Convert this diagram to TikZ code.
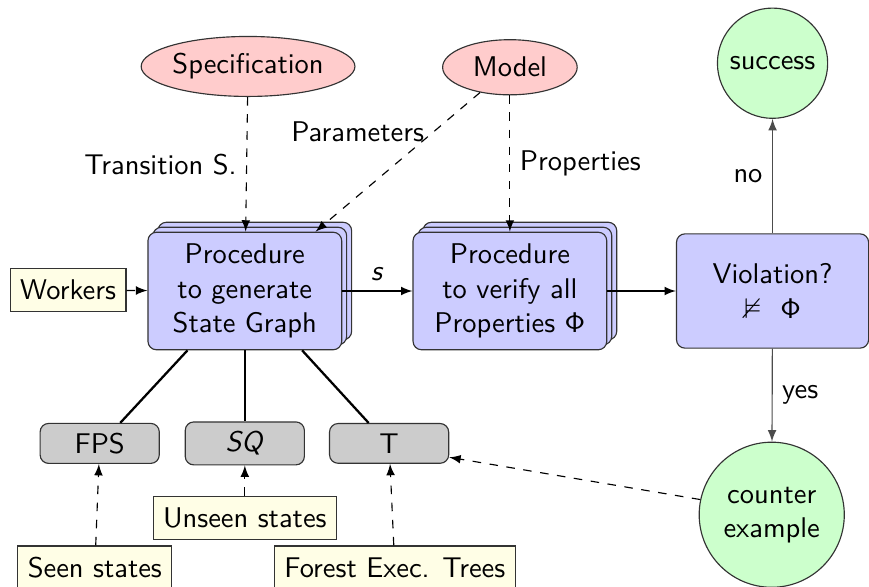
\documentclass[tikz,border=0pt]{standalone}
\usepackage{amsmath,amssymb}
\usetikzlibrary{shapes,arrows,positioning,calc,shadows}

\begin{document}
\begin{tikzpicture}[font=\sffamily, >=latex,
    proc/.style={draw=black!80, fill=blue!20, rounded corners=3pt, align=center,
        minimum width=2.39cm, minimum height=1.45cm, inner sep=2pt},
    procstack/.style={proc, double copy shadow={shadow xshift=1.75pt, shadow yshift=1.75pt}},
    src/.style={ellipse, draw=black!80, fill=red!20, inner sep=0pt},
    goal/.style={circle, draw=black!80, fill=green!20, align=center, inner sep=0pt},
    store/.style={draw=black!80, fill=black!20, rounded corners=3pt,
        minimum width=1.47cm, minimum height=0.49cm},
    info/.style={draw=black!80, fill=yellow!10, minimum height=0.53cm, inner xsep=3.5pt},
    feed/.style={->, dashed},
    link/.style={thick}]
            \useasboundingbox (0,0) rectangle (10.72,7.23);

            % --- Inputs ---
            \node[src, minimum width=2.39cm, minimum height=0.74cm] (spec) at (3.06,6.41) {Specification};
            \node[src, minimum width=1.66cm, minimum height=0.68cm] (model) at (6.29,6.40) {Model};
            \node[info] (workers) at (0.84,3.65) {Workers};

            % --- Procedures ---
            \node[procstack] (proc1) at (3.02,3.64) {Procedure\\to generate\\State Graph};
            \node[procstack] (proc2) at (6.29,3.64) {Procedure\\to verify all\\Properties $\mathsf{\Phi}$};
            \node[proc, minimum width=2.37cm, minimum height=1.41cm] (viol) at (9.53,3.64) {Violation?\\$\nvDash$\ \ $\mathsf{\Phi}$};

            % --- Results ---
            \node[goal, minimum size=1.36cm] (success) at (9.53,6.45) {success};
            \node[goal, minimum size=1.79cm] (counter) at (9.52,0.88) {counter\\example};

            % --- Data structures ---
            \node[store] (fps) at (1.23,1.76) {FPS};
            \node[store] (sq) at (3.02,1.76) {\textit{SQ}};
            \node[store] (t) at (4.80,1.76) {T};
            \node[info] (unseen) at (3.02,0.84) {Unseen states};
            \node[info] (seen) at (1.17,0.23) {Seen states};
            \node[info] (forest) at (4.87,0.23) {Forest Exec. Trees};

            % Inputs to procedures
            \draw[feed] (spec) -- node[left] {Transition S.} (proc1);
            \draw[feed] (model) -- node[pos=0.28, left] {Parameters} (proc1.40);
            \draw[feed] (model) -- node[right] {Properties} (proc2);
            \draw[feed] (workers) -- (proc1);

            % Main flow
            \draw[->] (proc1) -- node[above] {\textit{s}} (proc2);
            \draw[->] (proc2) -- (viol);
            \draw[->, black!70] (viol) -- node[left, black] {no} (success);
            \draw[->, black!70] (viol) -- node[right, black] {yes} (counter);

            % Structures of the generator
            \draw[link] (proc1.-134) -- (fps.45);
            \draw[link] (proc1) -- (sq);
            \draw[link] (proc1.-46) -- (t.135);
            \draw[feed] (seen) -- (fps);
            \draw[feed] (unseen) -- (sq);
            \draw[feed] (forest) -- (t);
            \draw[feed] (counter.168) -- (t.-13);
\end{tikzpicture}
\end{document}
